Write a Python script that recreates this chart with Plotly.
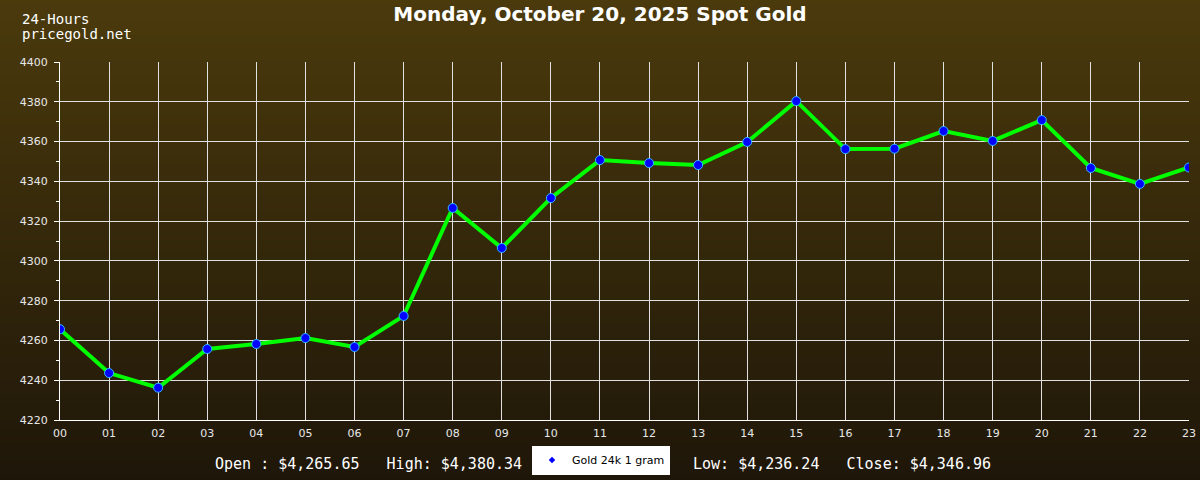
import plotly.graph_objects as go

hours = ["00", "01", "02", "03", "04", "05", "06", "07", "08", "09", "10", "11",
         "12", "13", "14", "15", "16", "17", "18", "19", "20", "21", "22", "23"]
prices = [4265.65, 4243.6, 4236.24, 4255.7, 4258.2, 4261.2, 4256.7, 4272.3,
          4326.6, 4306.5, 4331.6, 4350.7, 4349.2, 4348.2, 4359.8, 4380.34,
          4356.2, 4356.4, 4365.3, 4360.3, 4370.8, 4346.7, 4338.7, 4346.96]
y_ticks = [4220, 4240, 4260, 4280, 4300, 4320, 4340, 4360, 4380, 4400]
series_name = "Gold 24k 1 gram"
title_text = "Monday, October 20, 2025 Spot Gold"
left_note = ["24-Hours", "pricegold.net"]
stats_left = "Open : $4,265.65   High: $4,380.34"
stats_right = "Low: $4,236.24   Close: $4,346.96"

W, H = 1200, 480
ML, MR, MT, MB = 60, 11, 62, 60
PW, PH = W - ML - MR, H - MT - MB


def px_x(px):
    return (px - ML) / PW


def px_y(py):
    return (H - MB - py) / PH


fig = go.Figure()

fig.add_trace(go.Scatter(
    x=hours, y=prices, mode="lines+markers", showlegend=False,
    line=dict(color="#00ff00", width=4),
    marker=dict(size=9, color="#0000ff", line=dict(color="#33bbff", width=1)),
))
fig.add_trace(go.Scatter(
    x=[None], y=[None], mode="markers", name=series_name,
    marker=dict(size=5, symbol="diamond", color="#0000ff"),
))

# gradient background bands
top = (75, 58, 12)
bot = (30, 22, 9)
band = 5
shapes = []
for i in range(0, H, band):
    t = (i + band / 2) / H
    c = tuple(int(round(top[k] + (bot[k] - top[k]) * t)) for k in range(3))
    shapes.append(dict(
        type="rect", xref="paper", yref="paper", layer="below",
        x0=px_x(0), x1=px_x(W), y0=px_y(i + band + 0.5), y1=px_y(i),
        fillcolor="rgb(%d,%d,%d)" % c, line=dict(width=0),
    ))

mono = dict(family="DejaVu Sans Mono", size=15, color="white")
annotations = [
    dict(text=left_note[0], x=px_x(20), y=px_y(19), xref="paper", yref="paper",
         xanchor="left", yanchor="middle", showarrow=False,
         font=dict(family="DejaVu Sans Mono", size=14, color="white")),
    dict(text=left_note[1], x=px_x(20), y=px_y(34), xref="paper", yref="paper",
         xanchor="left", yanchor="middle", showarrow=False,
         font=dict(family="DejaVu Sans Mono", size=14, color="white")),
    dict(text=stats_left, x=px_x(213), y=px_y(464), xref="paper", yref="paper",
         xanchor="left", yanchor="middle", showarrow=False, font=mono),
    dict(text=stats_right, x=px_x(691), y=px_y(464), xref="paper", yref="paper",
         xanchor="left", yanchor="middle", showarrow=False, font=mono),
]

fig.update_layout(
    width=W, height=H,
    margin=dict(l=ML, r=MR, t=MT, b=MB, autoexpand=False),
    paper_bgcolor="rgba(0,0,0,0)", plot_bgcolor="rgba(0,0,0,0)",
    title=dict(text="<b>" + title_text + "</b>", x=0.5, xanchor="center",
               y=1 - 14 / H, yanchor="middle",
               font=dict(family="DejaVu Sans", size=20, color="white")),
    shapes=shapes, annotations=annotations,
    showlegend=True,
    legend=dict(x=px_x(532), y=px_y(460), xanchor="left", yanchor="middle",
                bgcolor="white", borderwidth=0, itemwidth=30,
                font=dict(family="DejaVu Sans", size=11, color="black")),
    xaxis=dict(type="category", range=[0, 23], showgrid=True, gridcolor="#e0e0e0",
               gridwidth=1, showline=True, linecolor="white", linewidth=1,
               ticks="outside", ticklen=3, tickcolor="rgba(0,0,0,0)",
               tickfont=dict(family="DejaVu Sans", size=11, color="#e8e8e8"),
               zeroline=False, fixedrange=True, automargin=False),
    yaxis=dict(range=[4220, 4400], tickvals=y_ticks, showgrid=True,
               gridcolor="#e0e0e0", gridwidth=1, showline=True, linecolor="white",
               linewidth=1, ticks="outside", ticklen=5, tickcolor="white",
               ticklabelstandoff=4,
               minor=dict(dtick=10, ticks="outside", ticklen=3, tickcolor="white",
                          showgrid=False),
               tickfont=dict(family="DejaVu Sans", size=11, color="#e8e8e8"),
               zeroline=False, fixedrange=True, automargin=False),
)

fig.write_html("out.html", config=dict(displayModeBar=False),
               post_script="document.body.style.margin='0';"
                           "document.body.style.background='#1e160a';")
